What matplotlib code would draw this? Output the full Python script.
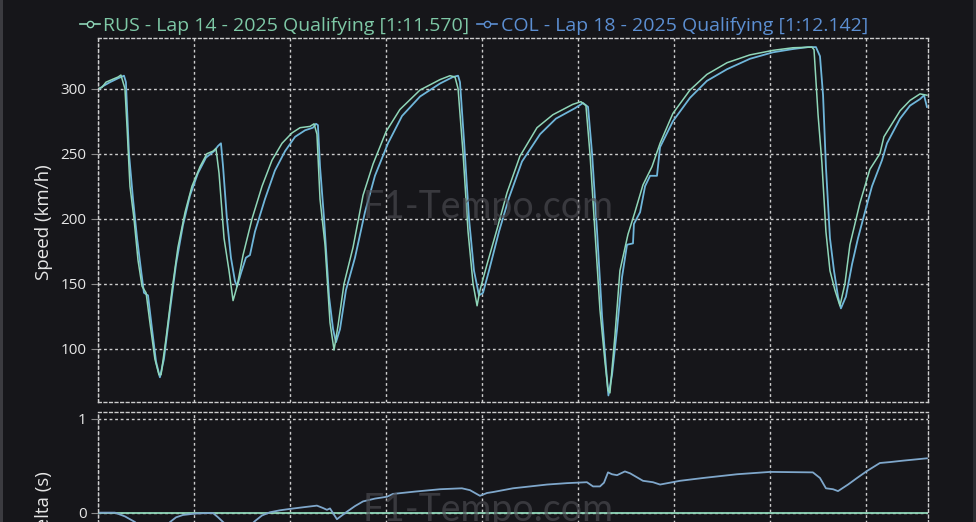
import matplotlib
matplotlib.use("Agg")
import matplotlib.pyplot as plt
from matplotlib.lines import Line2D
from matplotlib.patches import Rectangle

plt.rcParams['font.family'] = ['Open Sans', 'DejaVu Sans']

# ---------------- data ----------------
rus_label = "RUS - Lap 14 - 2025 Qualifying [1:11.570]"
col_label = "COL - Lap 18 - 2025 Qualifying [1:12.142]"

rus_dist = [0, 22, 43, 74, 106, 121, 142, 153, 168, 189, 210, 231, 252, 272, 298, 319, 330,
            356, 387, 418, 455, 491, 533, 569, 601, 616, 632, 658, 684, 705, 726, 757, 804,
            856, 908, 960, 1012, 1054, 1106, 1127, 1142, 1158, 1184, 1210, 1231, 1252, 1283,
            1330, 1382, 1434, 1502, 1574, 1679, 1783, 1835, 1861, 1877, 1903, 1929, 1955,
            1976, 1991, 2028, 2080, 2132, 2199, 2288, 2371, 2475, 2517, 2543, 2564, 2590,
            2616, 2642, 2658, 2668, 2694, 2720, 2762, 2798, 2840, 2887, 2929, 2996, 3085,
            3173, 3278, 3397, 3517, 3621, 3720, 3731, 3752, 3772, 3793, 3814, 3840, 3866,
            3892, 3918, 3970, 4022, 4074, 4095, 4179, 4231, 4283, 4319]
rus_speed = [300, 301, 305, 307, 309, 310.5, 300, 270, 225, 200, 168, 148, 143, 120, 92, 80, 80,
             108, 145, 178, 205, 225, 240, 250, 252, 254, 235, 185, 160, 137, 148, 172, 200,
             225, 245, 258, 266, 270, 271, 273, 265, 215, 180, 120, 99, 118, 150,
             178, 218, 242, 267, 284, 299, 307, 310, 309, 300, 250, 190, 150,
             133, 145, 165, 192, 220, 248, 270, 280, 288, 290, 287, 250, 190,
             130, 90, 68, 66, 110, 160, 188, 205, 226, 240, 258, 281, 299,
             311, 320, 326, 329.5, 331.5, 332, 330, 280, 243, 190, 160, 145, 133,
             150, 180, 212, 238, 250, 263, 283, 291, 296, 295]

col_dist = [0, 28, 64, 106, 137, 147, 163, 184, 205, 226, 241, 262, 283, 304, 324, 345, 377,
            408, 444, 481, 522, 564, 606, 627, 642, 653, 673, 694, 715, 726, 746, 772, 793,
            819, 871, 923, 976, 1028, 1080, 1121, 1137, 1147, 1158, 1179, 1205, 1226, 1241,
            1262, 1293, 1340, 1392, 1444, 1512, 1585, 1679, 1783, 1850, 1877, 1887, 1908,
            1934, 1960, 1986, 2007, 2038, 2090, 2142, 2210, 2304, 2387, 2486, 2528, 2554,
            2575, 2601, 2627, 2648, 2660, 2679, 2705, 2731, 2757, 2788, 2793, 2825, 2851,
            2877, 2913, 2929, 2996, 3085, 3173, 3278, 3397, 3517, 3621, 3699, 3741, 3762,
            3778, 3793, 3814, 3835, 3856, 3871, 3897, 3929, 3960, 3996, 4033, 4085, 4111,
            4179, 4231, 4283, 4304, 4319]
col_speed = [299, 302, 305, 308, 310, 305, 250, 215, 185, 160, 143, 141, 115, 90, 78, 92, 130,
             165, 195, 218, 235, 247, 252, 256, 258, 240, 200, 170, 152, 148, 158, 170, 172,
             190, 215, 237, 252, 263, 268, 270, 273, 272, 240, 200, 140, 115, 105,
             115, 145, 170, 205, 233, 258, 279, 294, 304, 309, 310, 305, 260,
             200, 160, 141, 143, 160, 190, 216, 244, 265, 277, 285, 289, 286,
             250, 190, 125, 85, 64, 80, 115, 155, 180, 181, 196, 205, 225,
             233, 233, 255, 275, 293, 306, 315, 323, 328, 330.5, 332, 332, 325,
             295, 240, 185, 160, 140, 131, 140, 165, 185, 205, 225, 245, 258,
             277, 287, 292, 295, 286]

delta_dist = [0, 90, 142, 194, 246, 298, 340, 377, 408, 444, 507, 559, 601, 627, 653, 700,
              752, 793, 819, 856, 897, 949, 1002, 1080, 1142, 1173, 1194, 1210, 1246, 1298,
              1340, 1382, 1444, 1507, 1538, 1653, 1783, 1897, 1939, 1991, 2028, 2059, 2163,
              2252, 2340, 2444, 2548, 2580, 2616, 2637, 2658, 2679, 2705, 2746, 2773, 2840,
              2892, 2929, 2981, 3033, 3153, 3330, 3502, 3725, 3762, 3793, 3830, 3856, 3908,
              3955, 4007, 4074, 4127, 4194, 4319]
delta_col = [0, 0, -0.04, -0.10, -0.20, -0.25, -0.18, -0.10, -0.05, -0.025, -0.01, -0.005,
             -0.005, -0.05, -0.10, -0.18, -0.20, -0.14, -0.09, -0.03, 0.004, 0.025, 0.04, 0.06,
             0.075, 0.05, 0.03, 0.045, -0.07, 0.01, 0.07, 0.12, 0.15, 0.17, 0.20, 0.225, 0.25,
             0.26, 0.24, 0.18, 0.21, 0.22, 0.26, 0.28, 0.30, 0.315, 0.325, 0.28, 0.28, 0.32,
             0.43, 0.41, 0.40, 0.44, 0.42, 0.34, 0.325, 0.30, 0.32, 0.34, 0.37, 0.41, 0.435,
             0.43, 0.37, 0.26, 0.25, 0.23, 0.30, 0.37, 0.445, 0.53, 0.54, 0.555, 0.58]

speed_ticks = [100, 150, 200, 250, 300]
delta_ticks = [0, 1]
dist_ticks = [0, 500, 1000, 1500, 2000, 2500, 3000, 3500, 4000]

# ---------------- style ----------------
BG = '#16161a'
GRID = '#cdcdcd'
RUS_C = '#8fd6b8'
COL_C = '#6fb6da'
RUS_TXT = '#7ec8a6'
COL_TXT = '#5c8fd2'
DELTA_C = '#7fa7cb'
TXT = '#e6e6e6'
dots = (0, (2, 2))

fig = plt.figure(figsize=(9.76, 5.22), dpi=100, facecolor=BG)

ax1 = fig.add_axes([0.1001, 0.2299, 0.8504, 0.6973])
ax2 = fig.add_axes([0.1001, -0.0718, 0.8504, 0.2826])

for ax in (ax1, ax2):
    ax.set_facecolor(BG)
    ax.set_xticks(dist_ticks)
    ax.set_xlim(0, 4323)
    ax.grid(True, color=GRID, linestyle=dots, linewidth=1.0)
    ax.set_axisbelow(True)
    for s in ax.spines.values():
        s.set_color(GRID)
        s.set_linestyle(dots)
        s.set_linewidth(1.0)
    ax.tick_params(axis='x', length=0, labelbottom=False)
    ax.tick_params(axis='y', length=5, color='#8a8a8a', labelcolor=TXT,
                   labelsize=11, pad=3)

ax1.plot(col_dist, col_speed, color=COL_C, linewidth=1.3)
ax1.plot(rus_dist, rus_speed, color=RUS_C, linewidth=1.1)
ax1.set_yticks(speed_ticks)
ax1.set_ylim(59, 339)
ax1.set_ylabel("Speed (km/h)", color=TXT, fontsize=13.5)
ax1.yaxis.set_label_coords(-0.054, 0.495)

ax2.axhline(0, color=RUS_C, linewidth=1.3)
ax2.plot(delta_dist, delta_col, color=DELTA_C, linewidth=1.3)
ax2.set_yticks(delta_ticks)
ax2.set_ylim(-0.5, 1.075)
ax2.set_ylabel("Delta (s)", color=TXT, fontsize=13.5)
ax2.yaxis.set_label_coords(-0.054, 0.36)

# watermarks
for y in (1 - 207 / 522, 1 - 510 / 522):
    fig.text(488 / 976, y, "F1-Tempo.com", ha='center', va='center',
             fontsize=27, color='#4c4c52', alpha=0.65, family=['Lato', 'DejaVu Sans'],
             zorder=0)

# thin window edges
fig.patches.append(Rectangle((0, 0), 3 / 976, 1, transform=fig.transFigure,
                             facecolor='#3b3b40', edgecolor='none'))
fig.patches.append(Rectangle((973 / 976, 0), 3 / 976, 1, transform=fig.transFigure,
                             facecolor='#2c2c31', edgecolor='none'))

handles = [Line2D([0], [0], color=RUS_C, marker='o', markersize=4.5,
                  markerfacecolor=BG, markeredgecolor=RUS_C, linewidth=1.2),
           Line2D([0], [0], color=COL_TXT, marker='o', markersize=4.5,
                  markerfacecolor=BG, markeredgecolor=COL_TXT, linewidth=1.2)]
leg = fig.legend(handles, [rus_label, col_label], loc='center',
                 bbox_to_anchor=(474 / 976, 1 - 26 / 522), ncol=2, frameon=False,
                 fontsize=14, handlelength=1.0, handletextpad=0.2, columnspacing=0.4)
for t, c in zip(leg.get_texts(), [RUS_TXT, COL_TXT]):
    t.set_color(c)

fig.savefig("out.png", dpi=100, facecolor=BG)
